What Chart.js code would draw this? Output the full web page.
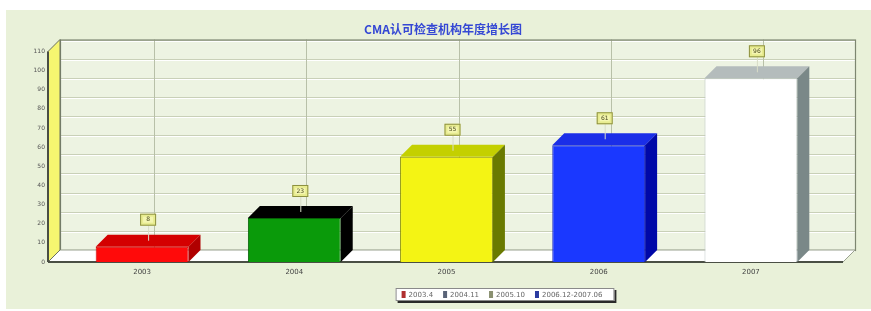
<!DOCTYPE html>
<html>
<head>
<meta charset="utf-8">
<script src="https://cdn.jsdelivr.net/npm/chart.js@4/dist/chart.umd.min.js"></script>
<style>
  html, body { margin: 0; padding: 0; background: #fff; }
  #wrap { width: 871px; height: 311px; position: relative; }
</style>
</head>
<body>
<div id="wrap"><canvas id="growthChart"></canvas></div>
<script>
// data
const years = ['2003', '2004', '2005', '2006', '2007'];
const counts = [8, 23, 55, 61, 96];
const yTicks = [0, 10, 20, 30, 40, 50, 60, 70, 80, 90, 100, 110];
const legendLabels = ['2003.4', '2004.11', '2005.10', '2006.12-2007.06'];
const legendColors = ['#b03030', '#5a6478', '#8a9070', '#2a3aa0'];

// colours of the three visible faces of each bar
const frontColors = ['#ff0a0a', '#0a9a0a', '#f4f414', '#1a38ff', '#ffffff'];
const topColors = ['#d40000', '#000000', '#c4d000', '#1a2ee8', '#b4bcbc'];
const sideColors = ['#b00000', '#000000', '#6a7a00', '#0008a8', '#7a8888'];
const edgeColors = ['#d00000', '#066006', '#8a9000', '#1020c0', '#c0c8c8'];

const DX = 12, DY = -12;

const box3d = {
    id: 'box3d',
    beforeDraw(chart) {
        const c = chart.ctx;
        c.save();
        c.fillStyle = '#ffffff';
        c.fillRect(0, 0, chart.width, chart.height);
        c.fillStyle = '#e9f1d9';
        c.fillRect(6, 10, chart.width - 6, chart.height - 12);
        c.restore();
    },
    beforeDatasetsDraw(chart) {
        const c = chart.ctx;
        const a = chart.chartArea;
        const y = chart.scales.y, x = chart.scales.x;
        const L = a.left - 18, R = a.right + 16;
        const top = y.getPixelForValue(110), bot = y.getPixelForValue(0);
        c.save();
        // back wall
        c.fillStyle = '#edf3e2';
        c.fillRect(L + DX, top + DY, R - L, bot - top);
        // horizontal grid on the back wall
        yTicks.forEach(v => {
            const py = Math.round(y.getPixelForValue(v) + DY) + 0.5;
            c.strokeStyle = '#c9d0b8';
            c.beginPath(); c.moveTo(L + DX, py); c.lineTo(R + DX, py); c.stroke();
            c.strokeStyle = '#ffffff';
            c.beginPath(); c.moveTo(L + DX, py + 1); c.lineTo(R + DX, py + 1); c.stroke();
        });
        // vertical grid on the back wall
        c.strokeStyle = '#b8c0a8';
        years.forEach((_, i) => {
            const px = Math.round(x.getPixelForValue(i) + DX) + 0.5;
            c.beginPath(); c.moveTo(px, top + DY); c.lineTo(px, bot + DY); c.stroke();
        });
        // back wall outline
        c.strokeStyle = '#7d8670';
        c.lineWidth = 1.2;
        c.strokeRect(L + DX + 0.5, top + DY + 0.5, R - L, bot - top);
        // floor
        c.fillStyle = '#ffffff';
        c.beginPath();
        c.moveTo(L, bot); c.lineTo(L + DX, bot + DY); c.lineTo(R + DX, bot + DY); c.lineTo(R, bot);
        c.closePath(); c.fill();
        c.strokeStyle = '#9aa290'; c.lineWidth = 1;
        c.stroke();
        // left wall
        c.fillStyle = '#f6f670';
        c.beginPath();
        c.moveTo(L, bot); c.lineTo(L, top); c.lineTo(L + DX, top + DY); c.lineTo(L + DX, bot + DY);
        c.closePath(); c.fill();
        c.strokeStyle = '#6a7060'; c.lineWidth = 1;
        c.stroke();
        // front floor line
        c.strokeStyle = '#4a4f44'; c.lineWidth = 2;
        c.beginPath(); c.moveTo(L, bot); c.lineTo(R, bot); c.stroke();
        c.beginPath(); c.moveTo(L, bot); c.lineTo(L, top); c.stroke();
        c.restore();
    },
    afterDatasetsDraw(chart) {
        const c = chart.ctx;
        const meta = chart.getDatasetMeta(0);
        c.save();
        meta.data.forEach((bar, i) => {
            const p = bar.getProps(['x', 'y', 'base', 'width'], true);
            const l = p.x - p.width / 2, r = p.x + p.width / 2;
            // top face
            c.fillStyle = topColors[i];
            c.beginPath();
            c.moveTo(l, p.y); c.lineTo(l + DX, p.y + DY); c.lineTo(r + DX, p.y + DY); c.lineTo(r, p.y);
            c.closePath(); c.fill();
            // side face
            c.fillStyle = sideColors[i];
            c.beginPath();
            c.moveTo(r, p.y); c.lineTo(r + DX, p.y + DY); c.lineTo(r + DX, p.base + DY); c.lineTo(r, p.base);
            c.closePath(); c.fill();
        });
        // value tags
        meta.data.forEach((bar, i) => {
            const p = bar.getProps(['x', 'y'], true);
            const cx = p.x + DX / 2, cy = p.y + DY - 15;
            c.strokeStyle = '#d8dcc8'; c.lineWidth = 1;
            c.beginPath(); c.moveTo(cx + 0.5, cy + 5); c.lineTo(cx + 0.5, p.y + DY / 2); c.stroke();
            c.fillStyle = '#e8ec90';
            c.fillRect(cx - 8, cy - 6, 16, 12);
            c.strokeStyle = '#8c9040';
            c.strokeRect(cx - 7.5, cy - 5.5, 15, 11);
            c.fillStyle = '#f4f6b0';
            c.fillRect(cx - 5, cy - 3, 10, 6);
            c.fillStyle = '#4a4a20';
            c.font = '6px "DejaVu Sans"';
            c.textAlign = 'center'; c.textBaseline = 'middle';
            c.fillText(String(counts[i]), cx, cy);
        });
        c.restore();
    },
    afterDraw(chart) {
        // legend strip at the bottom
        const c = chart.ctx;
        c.save();
        c.font = '7px "DejaVu Sans"';
        const gap = 10, sw = 4;
        let w = 8;
        legendLabels.forEach(t => { w += sw + 3 + c.measureText(t).width + gap; });
        const bx = 505 - w / 2, by = 288, bh = 13;
        c.fillStyle = '#2a2a2a';
        c.fillRect(bx + 2, by + 2, w, bh);
        c.fillStyle = '#ffffff';
        c.fillRect(bx, by, w, bh);
        c.strokeStyle = '#8a8a8a';
        c.strokeRect(bx + 0.5, by + 0.5, w - 1, bh - 1);
        let px = bx + 6;
        c.textBaseline = 'middle';
        legendLabels.forEach((t, i) => {
            c.fillStyle = legendColors[i];
            c.fillRect(px, by + 3, sw, bh - 6);
            px += sw + 3;
            c.fillStyle = '#666';
            c.fillText(t, px, by + bh / 2 + 0.5);
            px += c.measureText(t).width + gap;
        });
        c.restore();
    }
};

new Chart(document.getElementById('growthChart'), {
    type: 'bar',
    data: {
        labels: years,
        datasets: [{
            label: 'CMA',
            data: counts,
            backgroundColor: frontColors,
            borderColor: edgeColors,
            borderWidth: 1,
            barPercentage: 0.61,
            categoryPercentage: 1
        }]
    },
    options: {
        responsive: true,
        maintainAspectRatio: false,
        animation: false,
        layout: { padding: { left: 30, right: 15, top: 0, bottom: 29 } },
        plugins: {
            legend: { display: false },
            tooltip: { enabled: false },
            title: {
                display: true,
                text: 'CMA认可检查机构年度增长图',
                color: '#3548d4',
                font: { family: '"Noto Sans CJK SC"', size: 12, weight: 'bold', lineHeight: 1.2 },
                padding: { top: 22, bottom: 15.1 }
            }
        },
        scales: {
            x: {
                grid: { display: false, drawTicks: false },
                border: { display: false },
                ticks: { color: '#444', font: { family: '"DejaVu Sans"', size: 7 }, padding: 6 },
                afterFit(s) { s.height = 20; }
            },
            y: {
                min: 0,
                max: 110,
                grid: { display: false, drawTicks: false },
                border: { display: false },
                afterBuildTicks(s) { s.ticks = yTicks.map(v => ({ value: v })); },
                ticks: { color: '#555', font: { family: '"DejaVu Sans"', size: 6 }, padding: 21, autoSkip: false },
                afterFit(s) { s.width = 36; }
            },
            yRight: {
                position: 'right',
                display: true,
                grid: { display: false, drawTicks: false },
                border: { display: false },
                ticks: { display: false },
                afterFit(s) { s.width = 29; }
            }
        }
    },
    plugins: [box3d]
});
</script>
</body>
</html>
